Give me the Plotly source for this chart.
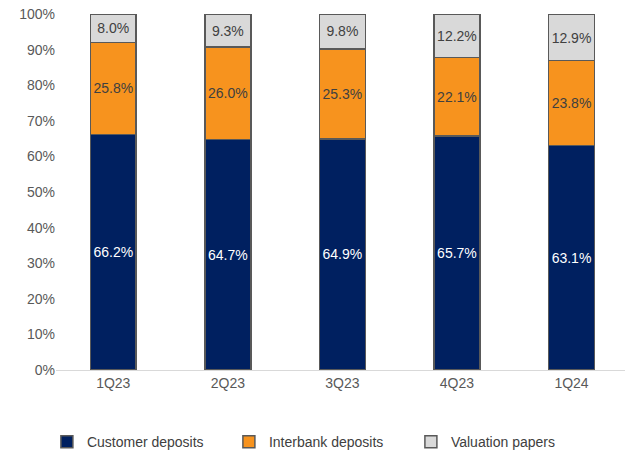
import plotly.graph_objects as go

quarters = ["1Q23", "2Q23", "3Q23", "4Q23", "1Q24"]
customer_deposits = [66.2, 64.7, 64.9, 65.7, 63.1]
interbank_deposits = [25.8, 26.0, 25.3, 22.1, 23.8]
valuation_papers = [8.0, 9.3, 9.8, 12.2, 12.9]

series = [
    ("Customer deposits", customer_deposits, "#002060", "#FFFFFF"),
    ("Interbank deposits", interbank_deposits, "#F7931E", "#404040"),
    ("Valuation papers", valuation_papers, "#D9D9D9", "#404040"),
]

fig = go.Figure()
for name, vals, color, txtcolor in series:
    fig.add_trace(go.Bar(
        name=name,
        x=quarters,
        y=vals,
        width=0.4,
        marker=dict(color=color, line=dict(color="#595959", width=1.5)),
        text=[f"{v:.1f}%" for v in vals],
        textposition="inside",
        insidetextanchor="middle",
        textangle=0,
        insidetextfont=dict(color=txtcolor, size=14, family="Liberation Sans, Arial"),
        hoverinfo="skip",
    ))

fig.update_layout(
    barmode="stack",
    width=625,
    height=459,
    margin=dict(l=56, r=0, t=14, b=88.5),
    paper_bgcolor="white",
    plot_bgcolor="white",
    font=dict(family="Liberation Sans, Arial", size=14, color="#595959"),
    uniformtext=dict(minsize=14, mode="show"),
    xaxis=dict(
        range=[-0.5, 4.467],
        showline=True,
        linecolor="#D9D9D9",
        linewidth=1,
        showgrid=False,
        ticks="",
        tickfont=dict(size=14, color="#595959"),
    ),
    yaxis=dict(
        range=[0, 100],
        tickvals=[0, 10, 20, 30, 40, 50, 60, 70, 80, 90, 100],
        ticktext=[f"{v}%" for v in range(0, 101, 10)],
        showgrid=False,
        showline=False,
        zeroline=False,
        ticks="",
        tickfont=dict(size=14, color="#595959"),
    ),
    legend=dict(
        orientation="h",
        x=-0.016,
        xanchor="left",
        y=-0.203,
        yanchor="middle",
        traceorder="normal",
        entrywidth=137,
        font=dict(size=14, color="#404040"),
    ),
    showlegend=True,
)

fig.write_html("out.html")
